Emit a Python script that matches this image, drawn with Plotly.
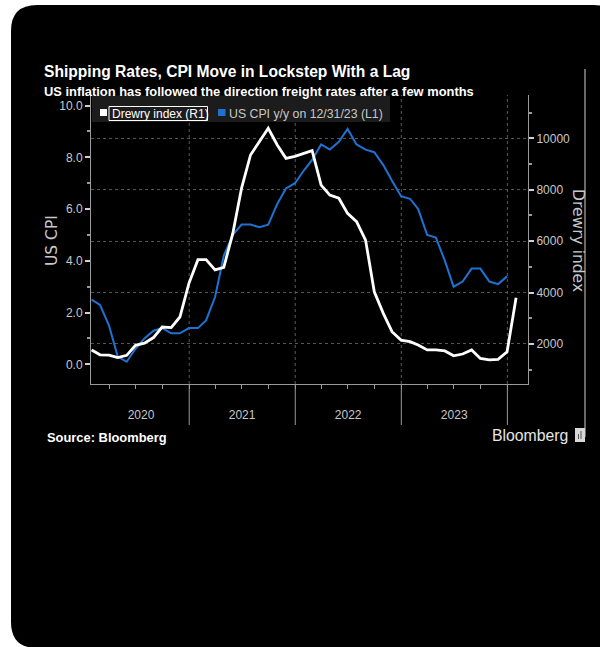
import plotly.graph_objects as go
import pandas as pd

# ---------------- data ----------------
cpi_yoy = [2.5, 2.3, 1.5, 0.3, 0.1, 0.6, 1.0, 1.3, 1.4, 1.2, 1.2, 1.4,
           1.4, 1.7, 2.6, 4.2, 5.0, 5.4, 5.4, 5.3, 5.4, 6.2, 6.8, 7.0,
           7.5, 7.9, 8.5, 8.3, 8.6, 9.1, 8.5, 8.3, 8.2, 7.7, 7.1, 6.5,
           6.4, 6.0, 5.0, 4.9, 4.0, 3.0, 3.2, 3.7, 3.7, 3.2, 3.1, 3.4]
drewry = [1770, 1580, 1570, 1470, 1560, 1950, 2030, 2250, 2660, 2640, 3050, 4360,
          5280, 5280, 4880, 4980, 6300, 8050, 9350, 9870, 10390, 9740, 9220, 9300,
          9420, 9520, 8180, 7790, 7670, 7080, 6760, 6040, 4030, 3190, 2480, 2150,
          2090, 1960, 1770, 1770, 1730, 1540, 1610, 1770, 1440, 1380, 1400, 1700,
          3800]
cpi_dates = pd.date_range("2020-01-31", periods=len(cpi_yoy), freq=pd.offsets.MonthEnd())
drewry_dates = pd.date_range("2020-01-31", periods=len(drewry), freq=pd.offsets.MonthEnd())

year_labels = ["2020", "2021", "2022", "2023"]
year_label_pos = ["2020-07-19", "2021-07-02", "2022-07-02", "2023-07-02"]
year_bounds = ["2021-01-01", "2022-01-01", "2023-01-01", "2024-01-01"]

title = "Shipping Rates, CPI Move in Lockstep With a Lag"
subtitle = "US inflation has followed the direction freight rates after a few months"
legend_names = ["Drewry index (R1)", "US CPI y/y on 12/31/23 (L1)"]

# ---------------- style ----------------
W, H = 600, 647
PL, PR, PT, PB = 91, 528, 95, 384          # plot box in page pixels
ML, MR, MT, MB = PL, W - PR, PT, H - PB
PW, PH = PR - PL, PB - PT
SANS = "Liberation Sans, Arial, sans-serif"
WIDE = "DejaVu Sans, sans-serif"
LBL = "#c8c8c8"
AX = "#9a9a9a"
BLUE = "#1e73d2"


def px(X):
    return (X - PL) / PW


def py(Y):
    return (PB - Y) / PH


fig = go.Figure()
fig.add_trace(go.Scatter(x=drewry_dates, y=drewry, mode="lines", yaxis="y2",
                         line=dict(color="white", width=2.8), showlegend=False,
                         name=legend_names[0]))
fig.add_trace(go.Scatter(x=cpi_dates, y=cpi_yoy, mode="lines", yaxis="y",
                         line=dict(color=BLUE, width=2), showlegend=False,
                         name=legend_names[1]))

shapes = []
# card
X0, X1, Y0, Y1, R = 11, 620, 5, 648, 26
card = (f"M {px(X0+R)},{py(Y0)} L {px(X1-R)},{py(Y0)} Q {px(X1)},{py(Y0)} {px(X1)},{py(Y0+R)} "
        f"L {px(X1)},{py(Y1-R)} Q {px(X1)},{py(Y1)} {px(X1-R)},{py(Y1)} "
        f"L {px(X0+R)},{py(Y1)} Q {px(X0)},{py(Y1)} {px(X0)},{py(Y1-R)} "
        f"L {px(X0)},{py(Y0+R)} Q {px(X0)},{py(Y0)} {px(X0+R)},{py(Y0)} Z")
shapes.append(dict(type="path", xref="paper", yref="paper", path=card,
                   fillcolor="black", line=dict(width=0), layer="below"))
# year boundaries
for d in year_bounds:
    shapes.append(dict(type="line", xref="x", yref="paper", x0=d, x1=d, y0=0, y1=1,
                       line=dict(color="#5a5a5a", width=1, dash="dot"), layer="below"))
    shapes.append(dict(type="line", xref="x", yref="paper", x0=d, x1=d, y0=0, y1=py(425),
                       line=dict(color=AX, width=1), layer="above"))
# thin right border line
shapes.append(dict(type="line", xref="paper", yref="paper", x0=px(585), x1=px(585),
                   y0=py(69), y1=py(437), line=dict(color="#d0d0d0", width=1), layer="above"))
# legend box
shapes.append(dict(type="rect", xref="paper", yref="paper", x0=px(92), x1=px(390),
                   y0=py(122), y1=py(95.5), fillcolor="#1c1c1c", line=dict(width=0), layer="above"))
shapes.append(dict(type="rect", xref="paper", yref="paper", x0=px(100), x1=px(107),
                   y0=py(116), y1=py(109), fillcolor="white", line=dict(width=0), layer="above"))
shapes.append(dict(type="rect", xref="paper", yref="paper", x0=px(109), x1=px(207.5),
                   y0=py(120.5), y1=py(106.5), fillcolor="rgba(0,0,0,0)",
                   line=dict(color="white", width=1), layer="above"))
shapes.append(dict(type="rect", xref="paper", yref="paper", x0=px(218), x1=px(225.5),
                   y0=py(116), y1=py(109), fillcolor=BLUE, line=dict(width=0), layer="above"))
# bloomberg icon
shapes.append(dict(type="rect", xref="paper", yref="paper", x0=px(575), x1=px(585),
                   y0=py(442), y1=py(428), fillcolor="#d8d8d8", line=dict(width=0), layer="above"))
shapes.append(dict(type="rect", xref="paper", yref="paper", x0=px(578), x1=px(579),
                   y0=py(439), y1=py(434), fillcolor="#555", line=dict(width=0), layer="above"))
shapes.append(dict(type="rect", xref="paper", yref="paper", x0=px(580.5), x1=px(581.5),
                   y0=py(439), y1=py(431), fillcolor="#555", line=dict(width=0), layer="above"))

annotations = [
    dict(text=f"<b>{title}</b>", xref="paper", yref="paper", x=px(42), y=py(72),
         xanchor="left", yanchor="middle", showarrow=False,
         font=dict(family=SANS, size=15.6, color="white")),
    dict(text=f"<b>{subtitle}</b>", xref="paper", yref="paper", x=px(42), y=py(91),
         xanchor="left", yanchor="middle", showarrow=False,
         font=dict(family=SANS, size=12.9, color="white")),
    dict(text="<b>Source: Bloomberg</b>", xref="paper", yref="paper", x=px(45), y=py(437),
         xanchor="left", yanchor="middle", showarrow=False,
         font=dict(family=SANS, size=12.9, color="white")),
    dict(text="Bloomberg", xref="paper", yref="paper", x=px(490), y=py(435),
         xanchor="left", yanchor="middle", showarrow=False,
         font=dict(family=SANS, size=15.8, color="#e6e6e6")),
    dict(text="US CPI", xref="paper", yref="paper", x=px(52), y=py(241), textangle=-90,
         xanchor="center", yanchor="middle", showarrow=False,
         font=dict(family=WIDE, size=15.5, color=LBL)),
    dict(text="Drewry index", xref="paper", yref="paper", x=px(578), y=py(240), textangle=90,
         xanchor="center", yanchor="middle", showarrow=False,
         font=dict(family=WIDE, size=15.5, color=LBL)),
    dict(text=legend_names[0], xref="paper", yref="paper", x=px(110), y=py(113.5),
         xanchor="left", yanchor="middle", showarrow=False,
         font=dict(family=SANS, size=12, color="white")),
    dict(text=legend_names[1], xref="paper", yref="paper", x=px(227), y=py(113.5),
         xanchor="left", yanchor="middle", showarrow=False,
         font=dict(family=SANS, size=12.3, color=LBL)),
]

tickfont = dict(family=SANS, size=12, color=LBL)

fig.update_layout(
    width=W, height=H,
    margin=dict(l=ML, r=MR, t=MT, b=MB, pad=0),
    paper_bgcolor="white", plot_bgcolor="rgba(0,0,0,0)",
    showlegend=False,
    shapes=shapes, annotations=annotations,
    xaxis=dict(type="date", range=["2020-01-29", "2024-03-12"],
               showline=True, linecolor=AX, linewidth=1, showgrid=False, zeroline=False,
               tickmode="array", tickvals=year_label_pos, ticktext=year_labels,
               ticks="outside", ticklen=20, tickcolor="rgba(0,0,0,0)", tickfont=tickfont,
               minor=dict(tickmode="linear", tick0="2020-01-01", dtick="M3", ticks="outside",
                          ticklen=4, tickcolor=AX, showgrid=False)),
    yaxis=dict(range=[-0.76, 10.41], tickmode="linear", tick0=0, dtick=2, tickformat=".1f",
               showline=True, linecolor=AX, linewidth=1, showgrid=False, zeroline=False,
               ticks="outside", ticklen=5, tickwidth=2, tickcolor="#d0d0d0", tickfont=tickfont,
               minor=dict(tickmode="linear", tick0=0, dtick=1, ticks="outside", ticklen=3,
                          tickcolor=AX, showgrid=False)),
    yaxis2=dict(range=[444, 11684], overlaying="y", side="right", tickmode="linear",
                tick0=0, dtick=2000, tickformat="d", showline=True, linecolor=AX, linewidth=1,
                showgrid=True, gridcolor="#555555", griddash="dot", gridwidth=1, zeroline=False,
                ticks="outside", ticklen=5, tickwidth=2, tickcolor="#d0d0d0", tickfont=tickfont,
                minor=dict(tickmode="linear", tick0=0, dtick=1000, ticks="outside", ticklen=3,
                           tickcolor=AX, showgrid=False)),
)

fig.write_html(
    "out.html",
    config={"displayModeBar": False},
    post_script="document.body.style.margin='0';"
                "document.documentElement.style.overflow='hidden';"
                "document.body.style.overflow='hidden';",
)
